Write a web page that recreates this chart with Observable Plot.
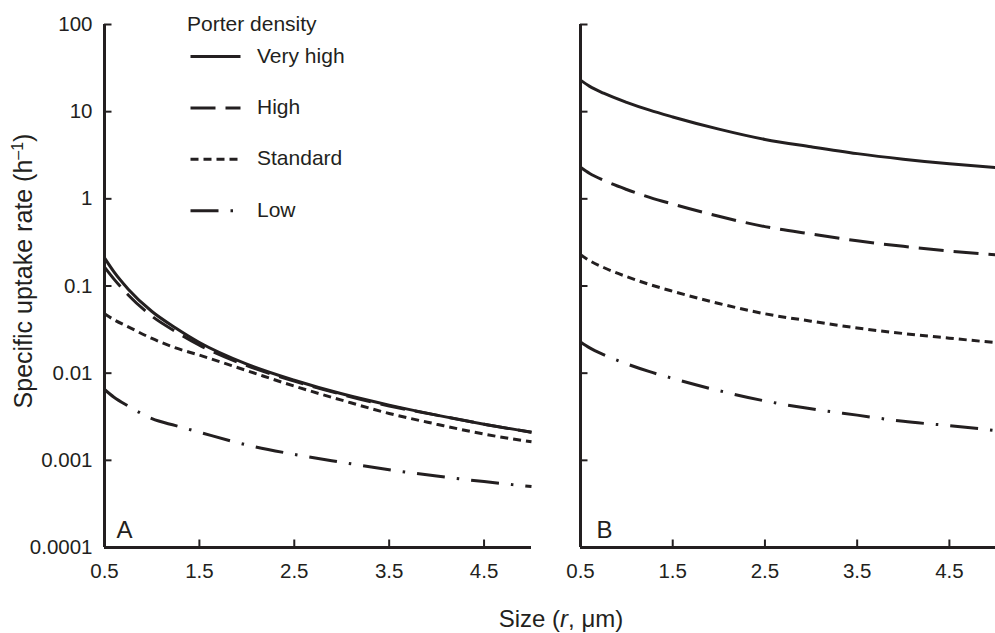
<!DOCTYPE html>
<html><head><meta charset="utf-8">
<script src="https://cdn.jsdelivr.net/npm/d3@7"></script>
<script src="https://cdn.jsdelivr.net/npm/@observablehq/plot@0.6"></script>
<style>
body{margin:0;background:#fff;font-family:"Liberation Sans",Arial,sans-serif;color:#231f20}
#wrap{position:relative;width:995px;height:633px;overflow:hidden;background:#fff}
#wrap svg{position:absolute;top:0}
.ttl{position:absolute;font-size:24px;white-space:nowrap;color:#231f20;line-height:1}
</style></head><body><div id="wrap"></div>
<script>
// ---- data ----
const sizes = [0.5, 0.6, 0.75, 1, 1.25, 1.5, 2, 2.5, 3, 3.5, 4, 4.5, 5];
const densities = ["Very high", "High", "Standard", "Low"];
const veryHighA = [0.21, 0.145, 0.092, 0.051, 0.033, 0.0225, 0.0127, 0.0083, 0.0058, 0.0043, 0.0033, 0.0026, 0.0021];
const highA     = [0.165, 0.12, 0.079, 0.045, 0.030, 0.021, 0.0122, 0.0081, 0.0057, 0.0042, 0.0033, 0.0026, 0.0021];
const standardA = [0.048, 0.041, 0.034, 0.025, 0.0195, 0.0161, 0.0107, 0.0071, 0.0049, 0.00345, 0.0026, 0.0020, 0.00163];
const lowA      = [0.0065, 0.0053, 0.0042, 0.0030, 0.0025, 0.0021, 0.0015, 0.00117, 0.00095, 0.00078, 0.00066, 0.00057, 0.0005];
const veryHighB = [23, 19.5, 16.3, 12.8, 10.4, 8.7, 6.3, 4.8, 3.95, 3.3, 2.85, 2.52, 2.28];
const highB     = [2.3, 1.95, 1.63, 1.28, 1.04, 0.87, 0.63, 0.48, 0.395, 0.33, 0.285, 0.252, 0.228];
const standardB = [0.228, 0.195, 0.163, 0.128, 0.104, 0.087, 0.063, 0.048, 0.0395, 0.033, 0.0285, 0.0252, 0.0224];
const lowB      = [0.0228, 0.0195, 0.0163, 0.0128, 0.0104, 0.0087, 0.0063, 0.0048, 0.0039, 0.0033, 0.0028, 0.0025, 0.0022];
const yTicks = [0.0001, 0.001, 0.01, 0.1, 1, 10, 100];
const yTickLabels = ["0.0001", "0.001", "0.01", "0.1", "1", "10", "100"];
const xTicks = [0.5, 1.5, 2.5, 3.5, 4.5];
const xTickLabels = ["0.5", "1.5", "2.5", "3.5", "4.5"];

// ---- styles ----
const ink = "#231f20";
const dashes = {"Very high": null, "High": "25,10", "Standard": "8,5", "Low": "28,12,2.5,12"};

function table(arrs) {
  const rows = [];
  densities.forEach((d, k) => sizes.forEach((s, i) => rows.push({density: d, size: s, rate: arrs[k][i]})));
  return rows;
}

function panel(arrs, letter, showLabels, layout) {
  const rows = table(arrs);
  const marks = [
    ...densities.map(d => Plot.line(rows.filter(r => r.density === d), {
      x: "size", y: "rate", curve: "monotone-x", stroke: ink, strokeWidth: 3,
      strokeDasharray: dashes[d], strokeLinecap: "butt"
    })),
    Plot.axisY({ticks: yTicks, tickSize: -7.5, strokeWidth: 2, tickFormat: () => "", label: null}),
    Plot.axisX({ticks: xTicks, tickSize: -7.5, strokeWidth: 2, tickFormat: () => "", label: null}),
    showLabels ? Plot.text(yTicks, {x: 0.5, y: d => d, text: (d, i) => yTickLabels[i], textAnchor: "end",
      dx: -12, fontSize: 20.5, fill: ink}) : null,
    Plot.text(xTicks, {x: d => d, y: 0.0001, text: (d, i) => xTickLabels[i], dy: 24, fontSize: 20.5, fill: ink}),
    Plot.ruleX([0.5], {stroke: ink, strokeWidth: 3}),
    Plot.ruleY([0.0001], {stroke: ink, strokeWidth: 3}),
    Plot.text([letter], {frameAnchor: "bottom-left", dx: layout.ldx, dy: -10, fill: ink, fontSize: 24, lineAnchor: "bottom", textAnchor: "start"})
  ];
  return Plot.plot({
    width: layout.width, height: 633,
    marginLeft: layout.ml, marginRight: layout.mr, marginTop: 24, marginBottom: 86,
    x: {domain: [0.5, 5]},
    y: {type: "log", domain: [0.0001, 100]},
    style: {fontFamily: "'Liberation Sans', Arial, sans-serif", fontSize: "20.5px", color: ink, background: "transparent", overflow: "visible"},
    marks
  });
}

const wrap = document.getElementById("wrap");
const pA = panel([veryHighA, highA, standardA, lowA], "A", true, {width: 545, ml: 104, mr: 14, ldx: 12});
pA.style.left = "0px";
wrap.appendChild(pA);
const pB = panel([veryHighB, highB, standardB, lowB], "B", false, {width: 420, ml: 5, mr: 0, ldx: 16});
pB.style.left = "575px";
wrap.appendChild(pB);

// legend
const leg = d3.select(wrap).append("svg").attr("width", 995).attr("height", 633).style("left", "0px")
  .style("font-family", "'Liberation Sans', Arial, sans-serif").style("pointer-events", "none");
leg.append("text").attr("x", 187).attr("y", 23).attr("dominant-baseline", "central")
  .attr("font-size", 21).attr("fill", ink).text("Porter density");
densities.forEach((d, i) => {
  const y = 56.5 + i * 51.4;
  leg.append("line").attr("x1", 190.5).attr("x2", 240.5).attr("y1", y).attr("y2", y)
    .attr("stroke", ink).attr("stroke-width", 3).attr("stroke-dasharray", dashes[d]);
  leg.append("text").attr("x", 257).attr("y", y - 1.5).attr("dominant-baseline", "central")
    .attr("font-size", 21).attr("fill", ink).text(d);
});

// axis titles
const xt = document.createElement("div");
xt.className = "ttl";
xt.innerHTML = "Size (<i>r</i>, μm)";
xt.style.left = "561px"; xt.style.top = "619px"; xt.style.transform = "translate(-50%,-50%)";
wrap.appendChild(xt);
const yt = document.createElement("div");
yt.className = "ttl";
yt.style.fontSize = "25px";
yt.innerHTML = "Specific uptake rate (h<sup style='font-size:16px;vertical-align:9px;line-height:0'>–1</sup>)";
yt.style.left = "23px"; yt.style.top = "271px"; yt.style.transform = "translate(-50%,-50%) rotate(-90deg)";
wrap.appendChild(yt);
</script></body></html>
